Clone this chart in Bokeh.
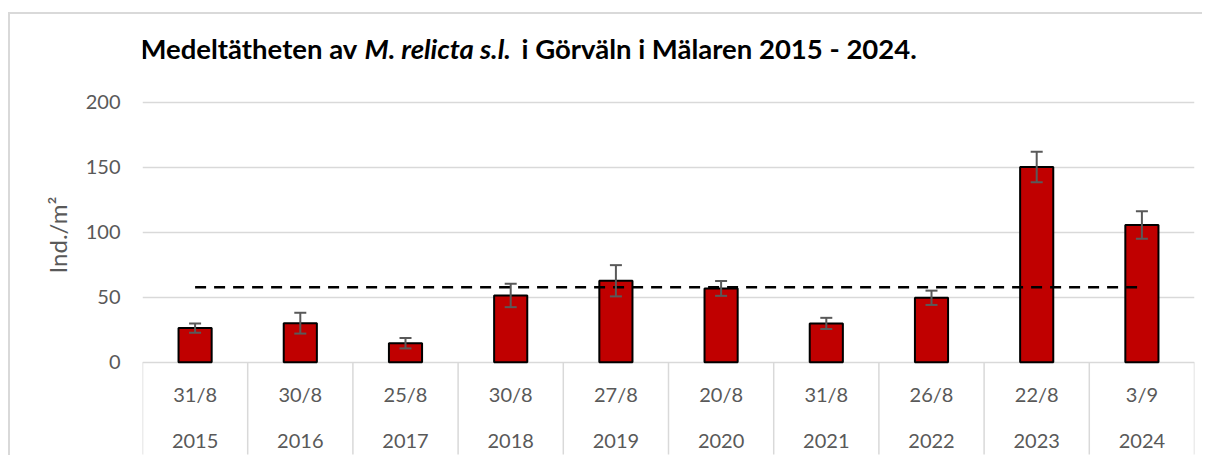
from bokeh.plotting import figure
from bokeh.models import (Range1d, FixedTicker, Label, Whisker, TeeHead,
                          ColumnDataSource, Title)
from bokeh.embed import file_html
from bokeh.resources import INLINE
from bokeh.core.properties import value

# ---------------- data ----------------
years = ["2015", "2016", "2017", "2018", "2019", "2020", "2021", "2022", "2023", "2024"]
dates = ["31/8", "30/8", "25/8", "30/8", "27/8", "20/8", "31/8", "26/8", "22/8", "3/9"]
density = [26.2, 30.0, 14.6, 51.3, 62.6, 56.7, 29.8, 49.5, 150.0, 105.4]
errors = [3.5, 8.0, 4.0, 9.0, 12.0, 5.7, 4.3, 5.5, 11.7, 10.6]
mean_density = 57.6
y_ticks = [0, 50, 100, 150, 200]

title_parts = ["Medeltätheten av", "M. relicta s.l.", "i Görväln i Mälaren 2015 - 2024."]
y_title = "Ind./m²"

# ---------------- layout constants (picture coords == canvas coords) ----------------
W, H = 1202, 455
BL, BR, BT, BB = 142, 8, 14, 0
frame_h = H - BT - BB
px_y = 1.301
ZERO_Y = 361.7                       # picture y of value 0
Y1 = (ZERO_Y - BT) / px_y
Y0 = Y1 - frame_h / px_y

def sy(ref_y):  # picture y -> data y
    return (ZERO_Y - ref_y) / px_y

def scr_x(ref_x):  # picture x -> screen units (relative to frame left)
    return ref_x - BL

def scr_y(ref_y):  # picture y -> screen units (relative to frame bottom)
    return (H - BB) - ref_y

FONT = "Lato"
GRAY = "#595959"
LIGHT = "#d9d9d9"
LBL_SIZE = "20px"
TITLE_SIZE = "27.5px"

border_css = {
    "background-image": "linear-gradient(#d9d9d9, #d9d9d9), linear-gradient(#d9d9d9, #d9d9d9)",
    "background-size": "2px 100%, 100% 2px",
    "background-position": "8px 12px, 8px 12px",
    "background-repeat": "no-repeat",
}

p = figure(width=W, height=H, output_backend="svg", toolbar_location=None,
           x_range=Range1d(0, 10), y_range=Range1d(Y0, Y1),
           x_axis_location=None, min_border_left=BL, min_border_right=BR,
           min_border_top=BT, min_border_bottom=BB, styles=border_css)
p.outline_line_color = None
p.background_fill_color = None
p.border_fill_color = None
p.xgrid.visible = False

yax = p.yaxis[0]
yax.ticker = FixedTicker(ticks=y_ticks)
yax.axis_line_color = None
yax.major_tick_line_color = None
yax.minor_tick_line_color = None
yax.major_tick_out = 0
yax.major_tick_in = 0
yax.major_label_standoff = 22
yax.major_label_text_font = FONT
yax.major_label_text_font_size = LBL_SIZE
yax.major_label_text_color = GRAY

p.ygrid.ticker = FixedTicker(ticks=y_ticks)
p.ygrid.grid_line_color = LIGHT
p.ygrid.grid_line_width = 1.5

centers = [i + 0.5 for i in range(len(years))]
src = ColumnDataSource(dict(
    x=centers, top=density, year=years, date=dates,
    upper=[v + e for v, e in zip(density, errors)],
    lower=[v - e for v, e in zip(density, errors)],
))

p.vbar(x="x", top="top", bottom=0, width=0.315, source=src,
       fill_color="#C00000", line_color="black", line_width=2)

wh = Whisker(source=src, base="x", upper="upper", lower="lower",
             line_color=GRAY, line_width=2, level="overlay",
             upper_head=TeeHead(size=12, line_color=GRAY, line_width=2),
             lower_head=TeeHead(size=12, line_color=GRAY, line_width=2))
p.add_layout(wh)

p.line(x=[centers[0], centers[-1]], y=[mean_density, mean_density],
       line_color="black", line_width=2.5, line_dash="11 8")

# category axis: separators + two label rows
bounds = list(range(len(years) + 1))
p.segment(x0=bounds, x1=bounds, y0=[0] * len(bounds), y1=[sy(454)] * len(bounds),
          line_color=LIGHT, line_width=1.5)
p.text(x="x", y=sy(393), text="date", source=src, text_font=value(FONT),
       text_font_size=LBL_SIZE, text_color=GRAY, text_align="center",
       text_baseline="middle")
p.text(x="x", y=sy(440), text="year", source=src, text_font=value(FONT),
       text_font_size=LBL_SIZE, text_color=GRAY, text_align="center",
       text_baseline="middle")

# y-axis title (native side-panel title, rotated)
p.add_layout(Title(text=y_title, text_font=FONT, text_font_size="24px",
                   text_font_style="normal", text_color=GRAY, align="center",
                   offset=6, standoff=22), "left")

# chart title (mixed bold / bold italic), inside the frame area
for txt, xpos, style in [(title_parts[0], 140, "bold"),
                         (title_parts[1], 364, "bold italic"),
                         (title_parts[2], 521, "bold")]:
    p.add_layout(Label(x=scr_x(xpos), y=scr_y(48), x_units="screen",
                       y_units="screen", text=txt, text_font=FONT,
                       text_font_size=TITLE_SIZE, text_font_style=style,
                       text_color="black", text_baseline="middle",
                       text_align="left"))

open("out.html", "w").write(file_html(p, INLINE))
